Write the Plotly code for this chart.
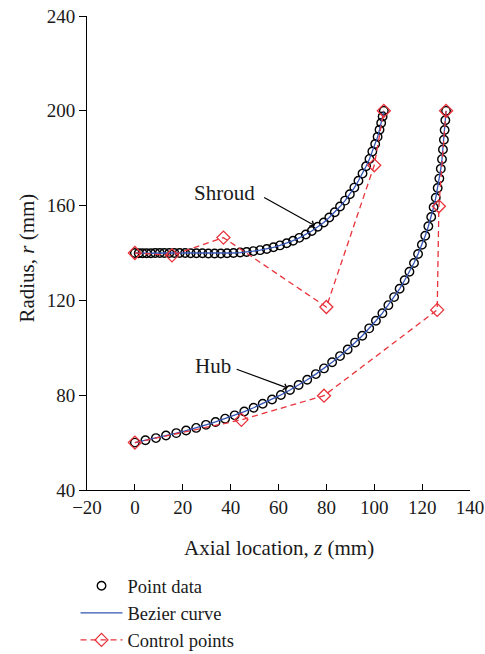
import plotly.graph_objects as go

# ---- data ----
shroud_z = [0.0, 1.6, 3.2, 4.9, 6.7, 8.5, 10.4, 12.3, 14.4, 16.5, 18.7, 21.0, 23.3, 25.7, 28.2, 30.7,
            33.3, 35.9, 38.5, 41.2, 44.0, 46.7, 49.5, 52.3, 55.1, 57.9, 60.6, 63.4, 66.1, 68.7, 71.4,
            73.9, 76.4, 78.9, 81.2, 83.5, 85.7, 87.8, 89.8, 91.7, 93.4, 95.1, 96.6, 98.0, 99.2, 100.4,
            101.4, 102.2, 102.9, 103.5, 104.0]
shroud_r = [140.0, 139.9, 139.9, 139.9, 139.9, 140.0, 140.0, 140.0, 140.0, 140.0, 140.0, 140.0, 139.9,
            139.9, 139.9, 139.8, 139.8, 139.8, 139.9, 140.0, 140.2, 140.4, 140.8, 141.2, 141.7, 142.4,
            143.2, 144.1, 145.2, 146.4, 147.8, 149.3, 151.1, 152.9, 155.0, 157.2, 159.6, 162.1, 164.8,
            167.6, 170.5, 173.5, 176.6, 179.7, 182.8, 186.0, 189.0, 192.0, 194.9, 197.6, 200.0]
hub_z = [0.0, 4.4, 8.8, 13.0, 17.3, 21.4, 25.6, 29.7, 33.7, 37.7, 41.7, 45.7, 49.6, 53.4, 57.3, 61.0,
         64.8, 68.4, 72.0, 75.6, 79.0, 82.4, 85.7, 88.9, 92.0, 95.0, 97.9, 100.7, 103.4, 105.9, 108.3,
         110.6, 112.7, 114.7, 116.6, 118.3, 119.9, 121.3, 122.6, 123.8, 124.8, 125.7, 126.5, 127.2,
         127.8, 128.3, 128.7, 129.1, 129.4, 129.7, 130.0]
hub_r = [60.0, 61.0, 61.9, 63.0, 64.0, 65.1, 66.2, 67.5, 68.7, 70.1, 71.5, 73.1, 74.7, 76.4, 78.2, 80.1,
         82.2, 84.3, 86.5, 88.9, 91.3, 93.9, 96.5, 99.3, 102.2, 105.1, 108.2, 111.4, 114.6, 118.0, 121.4,
         124.9, 128.5, 132.1, 135.8, 139.6, 143.5, 147.3, 151.3, 155.2, 159.3, 163.3, 167.4, 171.4,
         175.5, 179.6, 183.7, 187.8, 191.9, 196.0, 200.0]

shroud_ctrl_z = [0, 15.5, 37, 80, 100, 104]
shroud_ctrl_r = [140, 139, 146.5, 117.2, 177, 200]
hub_ctrl_z = [0, 44.5, 79, 126.3, 127, 130]
hub_ctrl_r = [60, 69.6, 79.8, 116, 159.7, 200]

FONT = "Liberation Serif"
BLUE = "#3454b4"
RED = "#e8323a"
TXT = "#1a1a1a"

fig = go.Figure()

for i, (z, r) in enumerate([(shroud_z, shroud_r), (hub_z, hub_r)]):
    fig.add_trace(go.Scatter(x=z, y=r, mode="markers", name="Point data",
                             showlegend=(i == 0), legendrank=1,
                             marker=dict(symbol="circle-open", size=8.5, color="black",
                                         line=dict(width=1.4, color="black"))))
for i, (z, r) in enumerate([(shroud_z, shroud_r), (hub_z, hub_r)]):
    fig.add_trace(go.Scatter(x=z, y=r, mode="lines", name="Bezier curve",
                             showlegend=(i == 0), legendrank=2,
                             line=dict(color=BLUE, width=1.3)))
for i, (z, r) in enumerate([(shroud_ctrl_z, shroud_ctrl_r), (hub_ctrl_z, hub_ctrl_r)]):
    fig.add_trace(go.Scatter(x=z, y=r, mode="lines+markers", name="Control points",
                             showlegend=(i == 0), legendrank=3,
                             line=dict(color=RED, width=1.3, dash="6px,4px"),
                             marker=dict(symbol="diamond-open", size=10, color=RED,
                                         line=dict(width=1.3, color=RED))))

# labels with arrows
fig.add_annotation(x=37.3, y=165.5, text="Shroud", showarrow=False,
                   font=dict(family=FONT, size=21, color=TXT))
fig.add_annotation(x=32.5, y=92.5, text="Hub", showarrow=False,
                   font=dict(family=FONT, size=21, color=TXT))
fig.add_annotation(x=75.0, y=151.6, ax=53.4, ay=163.8, axref="x", ayref="y", text="",
                   showarrow=True, arrowhead=4, arrowsize=1, arrowwidth=1.2, arrowcolor="black")
fig.add_annotation(x=63.8, y=83.0, ax=41.9, ay=91.2, axref="x", ayref="y", text="",
                   showarrow=True, arrowhead=4, arrowsize=1, arrowwidth=1.2, arrowcolor="black")

# axis titles
fig.add_annotation(xref="paper", yref="paper", x=0.501, y=-0.1224, xanchor="center", yanchor="middle",
                   text="Axial location, <i>z</i> (mm)", showarrow=False,
                   font=dict(family=FONT, size=21, color=TXT))
fig.add_annotation(xref="paper", yref="paper", x=-0.157, y=0.49, xanchor="center", yanchor="middle",
                   text="Radius, <i>r</i> (mm)", showarrow=False, textangle=-90,
                   font=dict(family=FONT, size=21, color=TXT))

fig.update_xaxes(range=[-20, 140], dtick=20, tick0=-20, ticks="inside", ticklen=6, tickwidth=1,
                 tickcolor="black", showline=True, linecolor="black", linewidth=1,
                 showgrid=False, zeroline=False, automargin=False,
                 tickfont=dict(family=FONT, size=19, color=TXT))
fig.update_yaxes(range=[40, 240], dtick=40, tick0=40, ticks="outside", ticklen=7, tickwidth=1,
                 tickcolor="black", showline=True, linecolor="black", linewidth=1,
                 showgrid=False, zeroline=False, automargin=False,
                 tickfont=dict(family=FONT, size=19, color=TXT))

fig.update_layout(
    width=485, height=654,
    margin=dict(l=87, r=15, t=16, b=164, autoexpand=False),
    plot_bgcolor="white", paper_bgcolor="white",
    legend=dict(x=-0.03, y=-0.163, xanchor="left", yanchor="top",
                font=dict(family=FONT, size=18.5, color=TXT),
                bgcolor="rgba(0,0,0,0)", tracegroupgap=0, itemwidth=42),
)

fig.write_html("out.html")
